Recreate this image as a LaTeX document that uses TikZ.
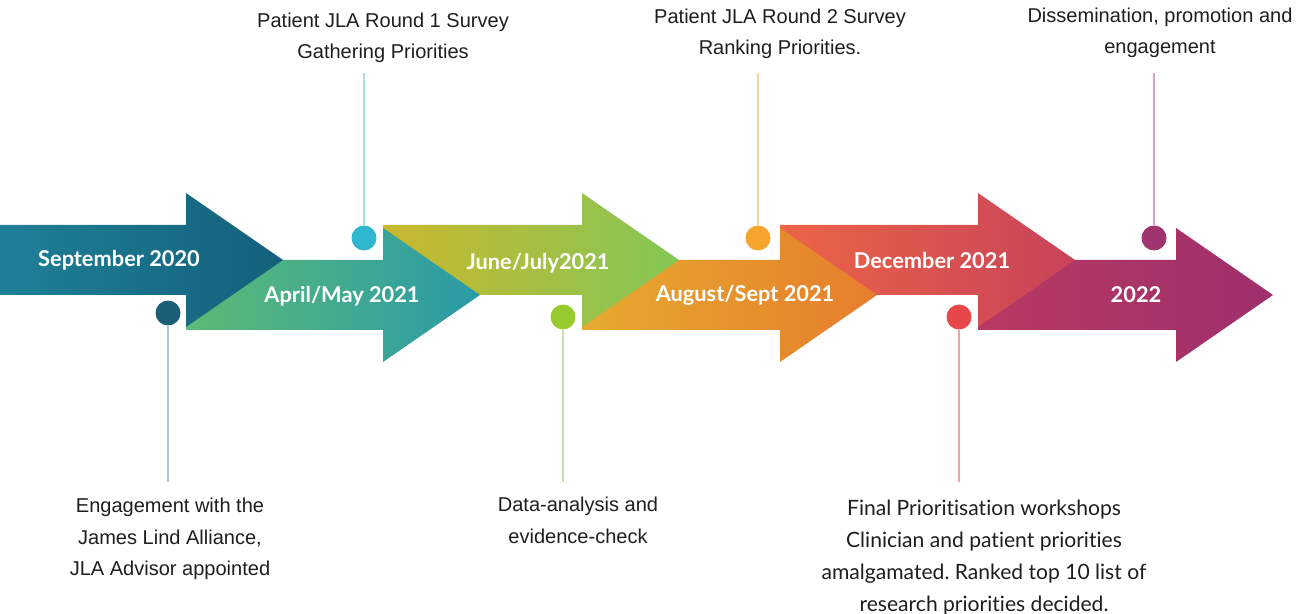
\documentclass[tikz,border=0pt]{standalone}
\usepackage{fontspec}
\setmainfont{Lato}[Ligatures=NoCommon]
\newfontfamily\narrowsf{Liberation Sans}
\usepackage{tikz}
\usetikzlibrary{positioning,calc}
\frenchspacing
\definecolor{tealA}{HTML}{1F8097}
\definecolor{tealB}{HTML}{14607B}
\definecolor{greenA}{HTML}{5CBB74}
\definecolor{greenB}{HTML}{2A9AA8}
\definecolor{oliveA}{HTML}{C9B82E}
\definecolor{oliveB}{HTML}{84C656}
\definecolor{amberA}{HTML}{E6AA2F}
\definecolor{amberB}{HTML}{E67D2C}
\definecolor{coralA}{HTML}{EC6446}
\definecolor{coralB}{HTML}{C8435A}
\definecolor{plumA}{HTML}{B83962}
\definecolor{plumB}{HTML}{9E2F6D}
\definecolor{dotteal}{HTML}{1B5E78}
\definecolor{dotcyan}{HTML}{2FB7CF}
\definecolor{dotlime}{HTML}{98CB30}
\definecolor{dotamber}{HTML}{F6A52E}
\definecolor{dotred}{HTML}{E8474A}
\definecolor{dotplum}{HTML}{A0346F}
\definecolor{stemteal}{HTML}{A9C9D4}
\definecolor{stemcyan}{HTML}{A6DDE6}
\definecolor{stemlime}{HTML}{C7DFA6}
\definecolor{stemamber}{HTML}{F8D39A}
\definecolor{stemred}{HTML}{EFA3A3}
\definecolor{stemplum}{HTML}{D3A6C3}
\definecolor{textgray}{HTML}{1E1E1E}
% arrow: body start, head start, centre line, left colour, right colour
\newcommand{\timearrow}[5]{%
  \shade[left color=#4,right color=#5]
    (#1,{#3-35}) -- (#2,{#3-35}) -- (#2,{#3-67}) -- ({#2+97},#3)
    -- (#2,{#3+67}) -- (#2,{#3+35}) -- (#1,{#3+35}) -- cycle;}

\begin{document}
\begin{tikzpicture}[
  x=0.02cm,y=-0.02cm,
  stage/.style={font=\bfseries\fontsize{12.4}{15}\selectfont,text=white},
  note/.style={font=\narrowsf\fontsize{11.4}{17.8}\selectfont,align=center,text=textgray,inner ysep=0.2cm},
  widenote/.style={note,font=\fontsize{12}{18.2}\selectfont},
  dot/.style={circle,inner sep=0pt,minimum size=0.5cm},
  stem/.style={line width=0.04cm}
]
  \useasboundingbox (0,0) rectangle (1300,614);

  % later stages first, so each head overlaps the next tail
  \timearrow{978}{1176}{295}{plumA}{plumB}
  \timearrow{780}{978}{260}{coralA}{coralB}
  \timearrow{582}{780}{295}{amberA}{amberB}
  \timearrow{383}{582}{260}{oliveA}{oliveB}
  \timearrow{186}{383}{295}{greenA}{greenB}
  \timearrow{0}{186}{260}{tealA}{tealB}

  \node[stage] (s1) at (119,260) {September 2020};
  \node[stage] (s2) at (342,296) {April/May 2021};
  \node[stage] (s3) at (538,263) {June/July2021};
  \node[stage] (s4) at (745,295) {August/Sept 2021};
  \node[stage] (s5) at (932,260) {December 2021};
  \node[stage] (s6) at (1136,295) {2022};

  \node[dot,fill=dotteal] (d1) at (168,313) {};
  \node[dot,fill=dotcyan] (d2) at (364,238) {};
  \node[dot,fill=dotlime] (d3) at (563,317) {};
  \node[dot,fill=dotamber] (d4) at (758,238) {};
  \node[dot,fill=dotred] (d5) at (959,317) {};
  \node[dot,fill=dotplum] (d6) at (1154,238) {};

  \node[note,anchor=north,inner ysep=0.32cm] (n1) at (170,482) {Engagement with the\\James Lind Alliance,\\JLA Advisor appointed};
  \node[note,anchor=south] (n2) at (383,73) {Patient JLA Round 1 Survey\\Gathering Priorities};
  \node[note,anchor=north,inner ysep=0.3cm] (n3) at (578,482) {Data-analysis and\\evidence-check};
  \node[note,anchor=south,inner ysep=0.28cm] (n4) at (780,73) {Patient JLA Round 2 Survey\\Ranking Priorities.};
  \node[widenote,anchor=north,inner ysep=0.36cm] (n5) at (984,482) {Final Prioritisation workshops\\Clinician and patient priorities\\amalgamated. Ranked top 10 list of\\research priorities decided.};
  \node[note,anchor=south,inner ysep=0.3cm] (n6) at (1160,73) {Dissemination, promotion and\\engagement};

  \draw[stem,draw=stemteal] (d1) -- (d1 |- n1.north);
  \draw[stem,draw=stemcyan] (d2) -- (d2 |- n2.south);
  \draw[stem,draw=stemlime] (d3) -- (d3 |- n3.north);
  \draw[stem,draw=stemamber] (d4) -- (d4 |- n4.south);
  \draw[stem,draw=stemred] (d5) -- (d5 |- n5.north);
  \draw[stem,draw=stemplum] (d6) -- (d6 |- n6.south);
\end{tikzpicture}
\end{document}
